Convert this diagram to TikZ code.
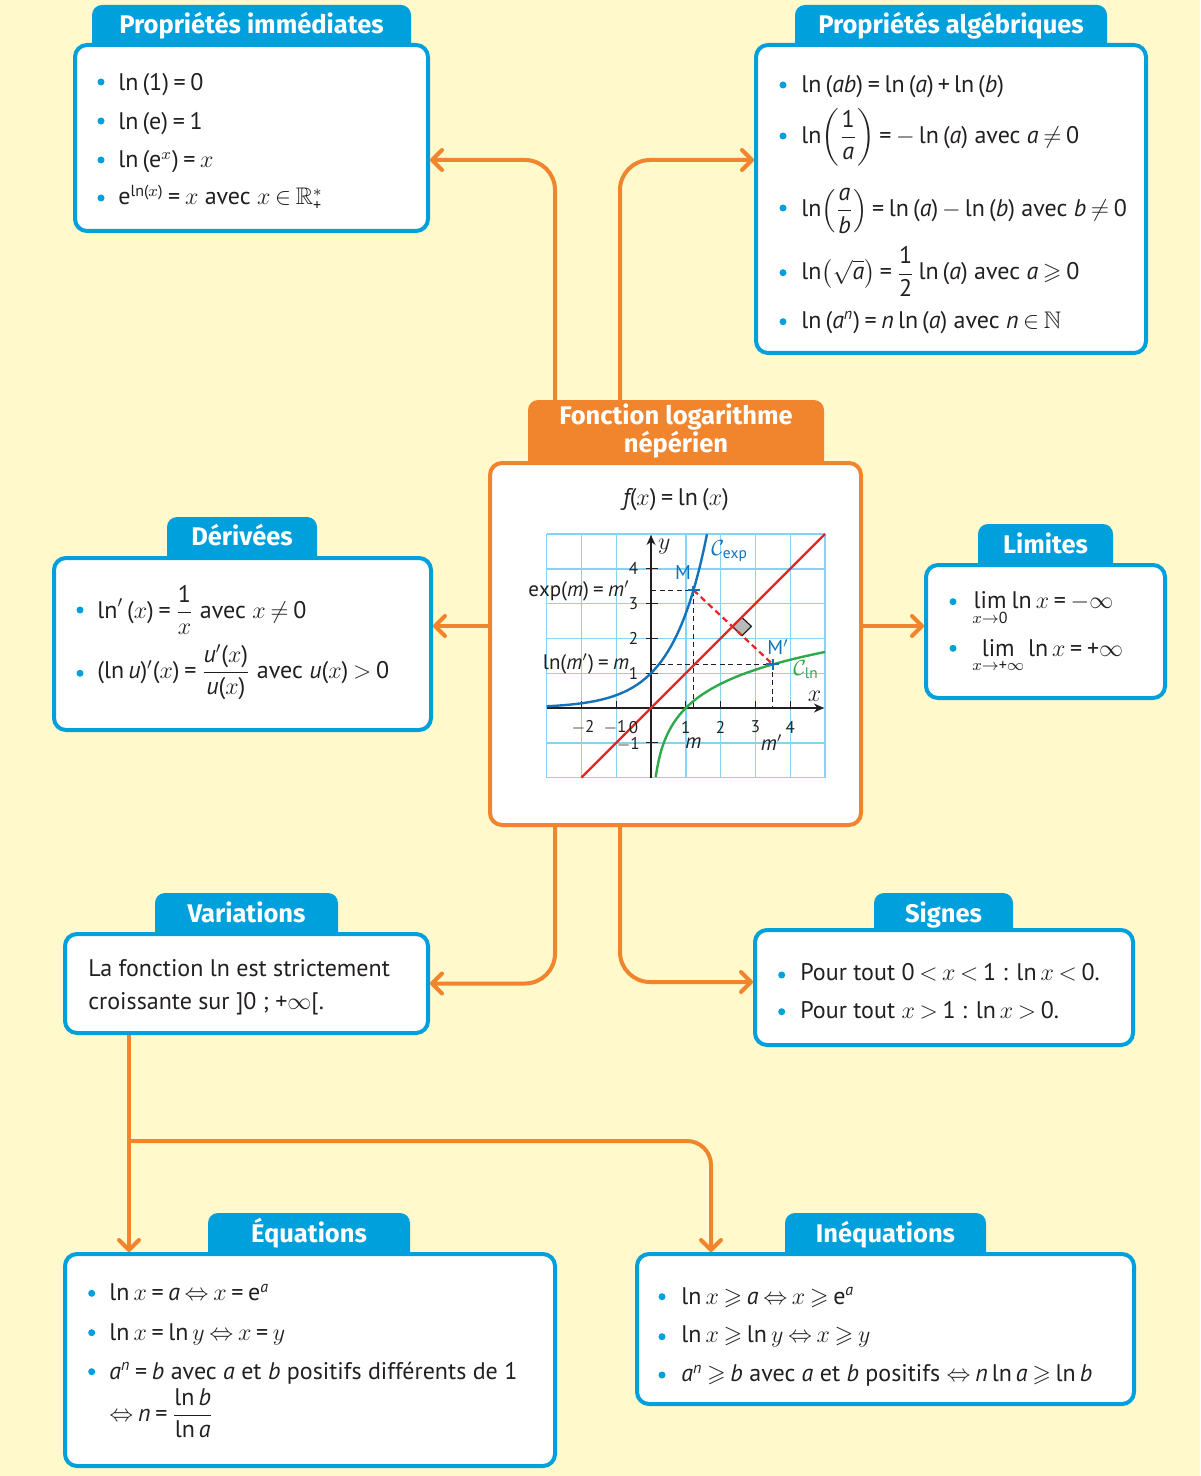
\documentclass[tikz,border=0pt]{standalone}
\usepackage{amsmath,amssymb}
\usepackage[no-math]{fontspec}
\setmainfont{PT Sans}
\newfontfamily\hfont{Fira Sans}
\newfontfamily\digfont{PT Sans}[NFSSFamily=ptsdig]
\DeclareSymbolFont{operators}{TU}{ptsdig}{m}{n}
\SetSymbolFont{operators}{bold}{TU}{ptsdig}{b}{n}
\DeclareSymbolFont{legacy}{OT1}{cmr}{m}{n}
\DeclareMathAlphabet{\mathit}{TU}{ptsdig}{m}{it}
\DeclareMathAlphabet{\mathrm}{TU}{ptsdig}{m}{n}
\DeclareMathSymbol{=}{\mathrel}{operators}{"3D}
\DeclareMathSymbol{+}{\mathbin}{operators}{"2B}
\DeclareMathSymbol{\cmeq}{\mathrel}{legacy}{"3D}
\DeclareMathDelimiter{(}{\mathopen}{operators}{"28}{largesymbols}{"00}
\DeclareMathDelimiter{)}{\mathclose}{operators}{"29}{largesymbols}{"01}
\renewcommand\neq{\mathrel{\not\cmeq}}
\usetikzlibrary{arrows.meta}
\definecolor{bgy}{HTML}{FFF9CC}
\definecolor{cblue}{HTML}{00A0DD}
\definecolor{corange}{HTML}{F0852D}
\definecolor{gridc}{HTML}{86D3F3}
\definecolor{expc}{HTML}{1272BA}
\definecolor{lnc}{HTML}{2EAA4A}
\definecolor{redc}{HTML}{E52428}
\definecolor{txt}{HTML}{231F20}
\newcommand\ia{\mathit{a}}
\newcommand\ib{\mathit{b}}
\newcommand\inn{\mathit{n}}
\newcommand\iu{\mathit{u}}
\newcommand\imm{\mathit{m}}
\newcommand\ee{\mathrm{e}}
\thickmuskip=3.5mu plus 2mu
\medmuskip=3mu plus 1mu minus 1mu
\tikzset{
 box/.style={draw=cblue, fill=white, line width=2pt, rounded corners=6pt, inner sep=0pt, anchor=north west},
 cboxs/.style={box, draw=corange},
 tabbox/.style={fill=cblue, rounded corners=5pt, inner sep=0pt, outer sep=0pt, anchor=north west},
 hd/.style={font={\hfont\bfseries\fontsize{12.75}{14}\selectfont}, text=white, inner sep=0pt, anchor=base},
 tx/.style={anchor=base west, inner sep=0pt, font={\fontsize{12}{14}\selectfont}, text=txt},
 gl/.style={inner sep=0pt, font={\fontsize{8.5}{10}\selectfont}, text=txt},
 glb/.style={gl, font={\fontsize{10.5}{12}\selectfont}},
 conn/.style={draw=corange, line width=2pt, rounded corners=15pt, -{Straight Barb[length=5pt,width=10pt,round]}},
 bul/.style={fill=cblue},
}
\begin{document}
\begin{tikzpicture}[x=0.5pt,y=-0.5pt]
\fill[bgy] (0,0) rectangle (1200,1476);
\useasboundingbox (0,0) rectangle (1200,1476);
% tabs
\node[tabbox, minimum width=159.5pt, minimum height=27pt] (pit) at (92,5) {};
\node[tabbox, minimum width=156pt, minimum height=27pt] (pat) at (795,5) {};
\node[tabbox, fill=corange, minimum width=148pt, minimum height=38.5pt] (ctab) at (528,400) {};
\node[tabbox, minimum width=75pt, minimum height=27.5pt] (dert) at (167,517) {};
\node[tabbox, minimum width=67.5pt, minimum height=27.5pt] (limt) at (978,524) {};
\node[tabbox, minimum width=91.5pt, minimum height=27.5pt] (vart) at (155,893) {};
\node[tabbox, minimum width=69.5pt, minimum height=25.5pt] (sigt) at (874,893) {};
\node[tabbox, minimum width=101pt, minimum height=27.5pt] (equt) at (208,1213) {};
\node[tabbox, minimum width=100.5pt, minimum height=27.5pt] (ineqt) at (785,1213) {};
% boxes
\node[box, minimum width=176.5pt, minimum height=93pt] (pi) at (73,43) {};
\node[box, minimum width=195pt, minimum height=154pt] (pa) at (754,43) {};
\node[cboxs, minimum width=185.5pt, minimum height=181pt] (cb) at (488,461) {};
\node[box, minimum width=188.5pt, minimum height=86pt] (der) at (52,556) {};
\node[box, minimum width=119.5pt, minimum height=66.5pt] (lim) at (924,563) {};
\node[box, minimum width=181.5pt, minimum height=49.5pt] (var) at (63,932) {};
\node[box, minimum width=189pt, minimum height=57.5pt] (sig) at (753,928) {};
\node[box, minimum width=245pt, minimum height=106pt] (equ) at (63,1252) {};
\node[box, minimum width=248.5pt, minimum height=75pt] (ineq) at (635,1252) {};
% headings
\node[hd] (pil) at (251.5,33.3) {Propriétés immédiates};
\node[hd] (pal) at (951,33.3) {Propriétés algébriques};
\node[hd, anchor=center, align=center] (cl) at (676,431) {Fonction logarithme\\népérien};
\node[hd] (derl) at (242,545) {Dérivées};
\node[hd] (liml) at (1045.5,553.3) {Limites};
\node[hd] (varl) at (246.5,922.7) {Variations};
\node[hd] (sigl) at (943.5,922.7) {Signes};
\node[hd] (equl) at (309,1242.7) {Équations};
\node[hd] (ineql) at (885.5,1242.7) {Inéquations};
% graph
\begin{scope}[shift={(325.5pt,-354pt)}, x=17.4pt, y=17.4pt]
 \draw[gridc, line width=0.7pt, step=17.4pt] (-3,-2) grid (5,5);
 \draw[txt, line width=0.6pt, -{Stealth[length=5pt,width=4.5pt]}] (-3,0) -- (4.97,0);
 \draw[txt, line width=0.6pt, -{Stealth[length=5pt,width=4.5pt]}] (0,-2) -- (0,4.97);
 \foreach \k in {-2,-1,1,2,3,4} \draw[txt, line width=0.6pt] (\k,0) -- (\k,0.2);
 \foreach \k in {-1,1,2,3,4} \draw[txt, line width=0.6pt] (-0.15,\k) -- (0.2,\k);
 \filldraw[fill=gray!55, draw=txt, line width=0.6pt] (2.339,2.339) -- (2.616,2.079) -- (2.884,2.347) -- (2.607,2.607) -- cycle;
 \draw[txt, line width=0.6pt, dash pattern=on 2.5pt off 1.8pt] (0,3.387) -- (1.22,3.387) -- (1.22,0);
 \draw[txt, line width=0.6pt, dash pattern=on 2.5pt off 1.8pt] (0,1.253) -- (3.5,1.253) -- (3.5,0);
 \draw[redc, line width=1.2pt] (-2,-2) -- (5,5);
 \draw[redc, line width=1.1pt, dash pattern=on 3pt off 2pt] (1.22,3.387) -- (3.5,1.253);
 \draw[expc, line width=1.2pt] plot[domain=-3:1.609, samples=70, smooth] (\x,{exp(\x)});
 \draw[lnc, line width=1.2pt] plot[domain=0.1353:5, samples=120, smooth] (\x,{ln(\x)});
 \draw[expc, line width=1pt] (1.05,3.387) -- (1.4,3.387) (1.22,3.25) -- (1.22,3.52);
 \draw[expc, line width=1pt] (3.3,1.253) -- (3.69,1.253) (3.5,1.09) -- (3.5,1.42);
 \foreach \k in {1,2,3,4} \node[gl] (ty\k) at (-0.5,\k) {\k};
 \node[gl] (tym) at (-0.65,-1.03) {$-1$};
 \node[gl] (txa) at (-1.95,-0.55) {$-2$};
 \node[gl] (txb) at (-1.03,-0.55) {$-1$};
 \node[gl] (txc) at (-0.5,-0.55) {0};
 \foreach \k in {1,2,3,4} \node[gl] (tx\k) at (\k,-0.55) {\k};
 \node[glb] (lm) at (1.22,-1.0) {$\imm$};
 \node[glb] (lmp) at (3.47,-1.0) {$\imm'$};
 \node[glb, anchor=east] (lexp) at (-0.6,3.37) {$\exp(\imm)=\imm'$};
 \node[glb, anchor=east] (lln) at (-0.62,1.27) {$\ln(\imm')=\imm$};
 \node[gl, text=expc, font={\fontsize{10}{11}\selectfont}] (lM) at (0.92,3.88) {M};
 \node[gl, text=expc, font={\fontsize{10}{11}\selectfont}] (lMp) at (3.65,1.75) {M$'$};
 \node[gl, text=expc, anchor=west, font={\fontsize{11}{12}\selectfont}] (cexp) at (1.72,4.5) {$\mathcal{C}_{\mathrm{exp}}$};
 \node[gl, text=lnc, anchor=west, font={\fontsize{11}{12}\selectfont}] (cln) at (4.08,1.1) {$\mathcal{C}_{\mathrm{ln}}$};
 \node[gl, font={\fontsize{13}{14}\selectfont}] (lx) at (4.7,0.33) {$x$};
 \node[gl, font={\fontsize{13}{14}\selectfont}] (ly) at (0.38,4.63) {$y$};
\end{scope}
% texts
\node[tx, anchor=base] (ff) at (676,505) {$\mathit{f}(x)=\ln\,(x)$};
\node[tx] (pi1) at (118,91) {$\ln\,(1)=0$};
\node[tx] (pi2) at (118,129.3) {$\ln\,(\ee)=1$};
\node[tx] (pi3) at (118,168) {$\ln\,(\ee^{x})=x$};
\node[tx] (pi4) at (118,205) {$\ee^{\ln(x)}=x$ avec $x\in\mathbb{R}_{+}^{*}$};
\node[tx] (pa1) at (801,92.7) {$\ln\,(\ia\ib)=\ln\,(\ia)+\ln\,(\ib)$};
\node[tx] (pa2) at (801,143.3) {$\ln\!\left(\dfrac{1}{\ia}\right)=-\ln\,(\ia)$ avec $\ia\neq0$};
\node[tx] (pa3) at (801,216.7) {$\ln\!\left(\dfrac{\ia}{\ib}\right)=\ln\,(\ia)-\ln\,(\ib)$ avec $\ib\neq0$};
\node[tx] (pa4) at (801,280) {$\ln\!\left(\sqrt{\ia}\right)=\dfrac{1}{2}\ln\,(\ia)$ avec $\ia\geqslant0$};
\node[tx] (pa5) at (801,328.3) {$\ln\,(\ia^{\inn})=\inn\ln\,(\ia)$ avec $\inn\in\mathbb{N}$};
\node[tx] (de1) at (97,618.3) {$\ln'\,(x)=\dfrac{1}{x}$ avec $x\neq0$};
\node[tx] (de2) at (97,678.3) {$(\ln\iu)'(x)=\dfrac{\iu'(x)}{\iu(x)}$ avec $\iu(x)>0$};
\node[tx] (li1) at (972,608.3) {$\lim\limits_{x\to0}\ln x=-\infty$};
\node[tx] (li2) at (972,656) {$\lim\limits_{x\to+\infty}\ln x=+\infty$};
\node[tx] (va1) at (88,976.7) {La fonction ln est strictement};
\node[tx] (va2) at (88,1009.3) {croissante sur ]0 ; $+\infty$[.};
\node[tx] (si1) at (800,980.7) {Pour tout $0<x<1$ : $\ln x<0$.};
\node[tx] (si2) at (800,1018.3) {Pour tout $x>1$ : $\ln x>0$.};
\node[tx] (eq1) at (109,1300.7) {$\ln x=\ia\Leftrightarrow x=\ee^{\ia}$};
\node[tx] (eq2) at (109,1340) {$\ln x=\ln y\Leftrightarrow x=y$};
\node[tx] (eq3) at (109,1379) {$\ia^{\inn}=\ib$ avec $\ia$ et $\ib$ positifs différents de 1};
\node[tx] (eq4) at (109,1421.5) {$\Leftrightarrow\inn=\dfrac{\ln\ib}{\ln\ia}$};
\node[tx] (in1) at (681,1304) {$\ln x\geqslant\ia\Leftrightarrow x\geqslant\ee^{\ia}$};
\node[tx] (in2) at (681,1342.7) {$\ln x\geqslant\ln y\Leftrightarrow x\geqslant y$};
\node[tx] (in3) at (681,1381.7) {$\ia^{\inn}\geqslant\ib$ avec $\ia$ et $\ib$ positifs $\Leftrightarrow\inn\ln\ia\geqslant\ln\ib$};
% bullets
\foreach \p in {(101,82),(101,121),(101,160),(101,198),
  (783,85),(783,136),(783,208),(783,272.7),(783,321.7),
  (80,610),(80,673.3),(953,601.7),(953,648.3),
  (781.7,975),(781.7,1011.7),
  (91.7,1293.3),(91.7,1332.7),(91.7,1371.7),
  (662,1296.7),(662,1336.7),(662,1375)}
  \fill[bul] \p circle[radius=1.75pt];
% connectors
\draw[conn] ([xshift=-60.5pt]ctab.north) |- ([yshift=-11pt]pi.east);
\draw[conn] ([xshift=-28pt]ctab.north) |- ([yshift=19.5pt]pa.west);
\draw[conn] ([yshift=9pt]cb.west) -- ([yshift=9pt]cb.west -| der.east);
\draw[conn] ([yshift=9pt]cb.east) -- ([yshift=9pt]cb.east -| lim.west);
\draw[conn] ([xshift=-60.25pt]cb.south) |- (var.east);
\draw[conn] ([xshift=-27.75pt]cb.south) |- ([yshift=2.75pt]sig.west);
\draw[conn] ([xshift=-58.75pt]var.south) -- ([xshift=-58.75pt]var.south |- equ.north);
\coordinate (br) at ([xshift=-58.75pt,yshift=-53pt]var.south);
\draw[conn, rounded corners=12pt] (br) -| ([xshift=-87.25pt]ineq.north);
\end{tikzpicture}
\end{document}
